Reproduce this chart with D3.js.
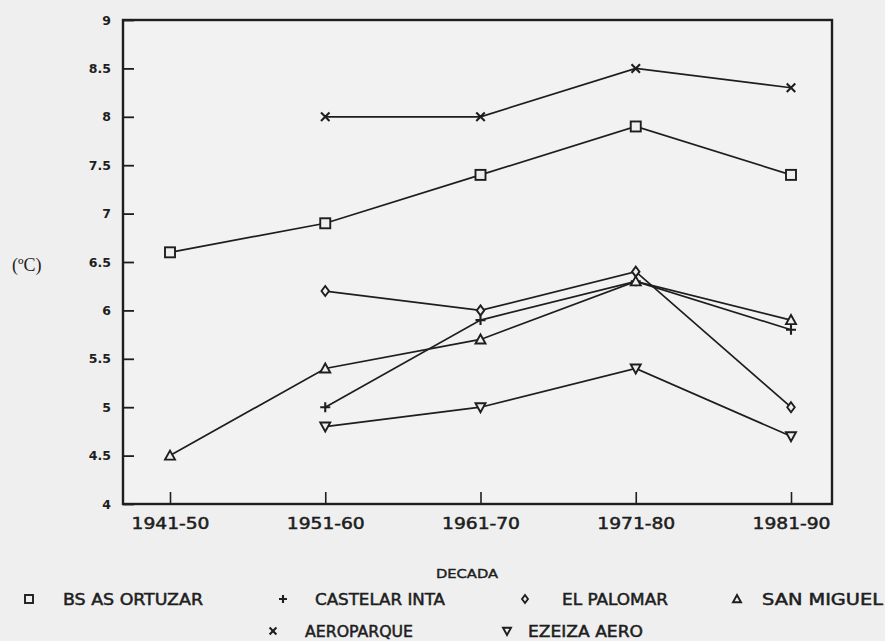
<!DOCTYPE html>
<html>
<head>
<meta charset="utf-8">
<script src="https://cdn.jsdelivr.net/npm/d3@7/dist/d3.min.js"></script>
<style>
  html, body { margin: 0; padding: 0; background: #efefef; }
  svg { display: block; }
</style>
</head>
<body>
<svg id="chart" width="885" height="641"></svg>
<script>
// ---- data ----
const categories = ["1941-50", "1951-60", "1961-70", "1971-80", "1981-90"];
const yTicks = [4, 4.5, 5, 5.5, 6, 6.5, 7, 7.5, 8, 8.5, 9];
const bsAsOrtuzar = [6.6, 6.9, 7.4, 7.9, 7.4];
const castelarInta = [null, 5.0, 5.9, 6.3, 5.8];
const elPalomar = [null, 6.2, 6.0, 6.4, 5.0];
const sanMiguel = [4.5, 5.4, 5.7, 6.3, 5.9];
const aeroparque = [null, 8.0, 8.0, 8.5, 8.3];
const ezeizaAero = [null, 4.8, 5.0, 5.4, 4.7];
const seriesNames = ["BS AS ORTUZAR", "CASTELAR INTA", "EL PALOMAR", "SAN MIGUEL", "AEROPARQUE", "EZEIZA AERO"];
const yTitle = "(ºC)";
const xTitle = "DECADA";

const series = [
  { name: seriesNames[0], values: bsAsOrtuzar, sym: "square" },
  { name: seriesNames[1], values: castelarInta, sym: "plus" },
  { name: seriesNames[2], values: elPalomar, sym: "diamond" },
  { name: seriesNames[3], values: sanMiguel, sym: "triangle" },
  { name: seriesNames[4], values: aeroparque, sym: "cross" },
  { name: seriesNames[5], values: ezeizaAero, sym: "triangleDown" }
];

const ink = "#1e1e1e";
const bg = "#efefef";
const labelFont = "'DejaVu Sans Condensed', 'DejaVu Sans', sans-serif";
const svg = d3.select("#chart");

const frame = { left: 123, right: 832, top: 20, bottom: 504 };
const x = d3.scalePoint().domain(categories).range([170, 791]);
const y = d3.scaleLinear().domain([4, 9]).range([frame.bottom, frame.top]);

// plot area
svg.append("rect")
  .attr("x", frame.left).attr("y", frame.top)
  .attr("width", frame.right - frame.left).attr("height", frame.bottom - frame.top)
  .attr("fill", "#f2f2f2").attr("stroke", ink).attr("stroke-width", 2.4);

// y axis: ticks inside, labels left
const yAxis = d3.axisLeft(y).tickValues(yTicks).tickSize(-11).tickPadding(12)
  .tickFormat(d => String(d));
const gy = svg.append("g").attr("transform", `translate(${frame.left},0)`).call(yAxis);
gy.select(".domain").remove();
gy.selectAll(".tick line").attr("stroke", ink).attr("stroke-width", 1.8);
gy.selectAll(".tick text")
  .attr("fill", ink)
  .style("font-family", "'DejaVu Sans', sans-serif")
  .style("font-weight", "bold")
  .style("font-size", "12.5px");

// x axis: ticks inside (upward), labels below
const xAxis = d3.axisBottom(x).tickSize(-12).tickPadding(0).tickFormat(d => d);
const gx = svg.append("g").attr("transform", `translate(0,${frame.bottom})`).call(xAxis);
gx.select(".domain").remove();
gx.selectAll(".tick line").attr("stroke", ink).attr("stroke-width", 1.6);
gx.selectAll(".tick text")
  .attr("fill", ink)
  .attr("stroke", ink).attr("stroke-width", 0.45)
  .attr("dy", "0")
  .attr("y", 25)
  .style("font-family", labelFont)
  .style("font-size", "15px")
  .attr("textLength", 78)
  .attr("lengthAdjust", "spacingAndGlyphs");

// symbols
function drawSymbol(g, sym, cx, cy, s) {
  const h = s / 2;
  if (sym === "square") {
    g.append("rect").attr("x", cx - h).attr("y", cy - h).attr("width", s).attr("height", s)
      .attr("fill", bg).attr("stroke", ink).attr("stroke-width", 1.9);
  } else if (sym === "plus") {
    g.append("path").attr("d", `M${cx - h},${cy}H${cx + h}M${cx},${cy - h}V${cy + h}`)
      .attr("stroke", ink).attr("stroke-width", 2.1).attr("fill", "none");
  } else if (sym === "cross") {
    const k = h * 0.85;
    g.append("path").attr("d", `M${cx - k},${cy - k}L${cx + k},${cy + k}M${cx - k},${cy + k}L${cx + k},${cy - k}`)
      .attr("stroke", ink).attr("stroke-width", 2.1).attr("fill", "none");
  } else if (sym === "diamond") {
    g.append("path").attr("d", `M${cx},${cy - h}L${cx + h * 0.75},${cy}L${cx},${cy + h}L${cx - h * 0.75},${cy}Z`)
      .attr("fill", bg).attr("stroke", ink).attr("stroke-width", 1.9);
  } else if (sym === "triangle") {
    g.append("path").attr("d", `M${cx},${cy - h}L${cx + h},${cy + h * 0.8}L${cx - h},${cy + h * 0.8}Z`)
      .attr("fill", bg).attr("stroke", ink).attr("stroke-width", 1.9);
  } else if (sym === "triangleDown") {
    g.append("path").attr("d", `M${cx},${cy + h}L${cx + h},${cy - h * 0.8}L${cx - h},${cy - h * 0.8}Z`)
      .attr("fill", bg).attr("stroke", ink).attr("stroke-width", 1.9);
  }
}

const line = d3.line()
  .defined(d => d.v !== null)
  .x(d => x(d.c))
  .y(d => y(d.v));

const gl = svg.append("g");
series.forEach(s => {
  const pts = s.values.map((v, i) => ({ c: categories[i], v }));
  gl.append("path").datum(pts).attr("d", line)
    .attr("fill", "none").attr("stroke", ink).attr("stroke-width", 1.7);
});
const gm = svg.append("g");
series.forEach(s => {
  s.values.forEach((v, i) => {
    if (v !== null) drawSymbol(gm, s.sym, x(categories[i]), y(v), 10);
  });
});

// titles
svg.append("text").attr("x", 12).attr("y", 271).text(yTitle)
  .attr("fill", ink)
  .style("font-family", "'Liberation Serif', 'DejaVu Serif', serif")
  .style("font-size", "18px");

svg.append("text").attr("x", 467).attr("y", 578).attr("text-anchor", "middle").text(xTitle)
  .attr("fill", ink)
  .attr("stroke", ink).attr("stroke-width", 0.4)
  .style("font-family", labelFont)
  .style("font-size", "13px")
  .attr("textLength", 62).attr("lengthAdjust", "spacingAndGlyphs");

// legend
const legendItems = [
  { i: 0, sx: 29, tx: 63, tw: 140, y: 599 },
  { i: 1, sx: 283, tx: 315, tw: 130, y: 599 },
  { i: 2, sx: 525, tx: 562, tw: 106, y: 599 },
  { i: 3, sx: 737, tx: 762, tw: 121, y: 599 },
  { i: 4, sx: 273, tx: 305, tw: 108, y: 631 },
  { i: 5, sx: 507, tx: 528, tw: 115, y: 631 }
];
const gleg = svg.append("g");
legendItems.forEach(it => {
  const s = series[it.i];
  drawSymbol(gleg, s.sym, it.sx, it.y, 8);
  gleg.append("text").attr("x", it.tx).attr("y", it.y + 6).text(s.name)
    .attr("fill", ink)
    .attr("stroke", ink).attr("stroke-width", 0.45)
    .style("font-family", labelFont)
    .style("font-size", "15px")
    .attr("textLength", it.tw).attr("lengthAdjust", "spacingAndGlyphs");
});
</script>
</body>
</html>
